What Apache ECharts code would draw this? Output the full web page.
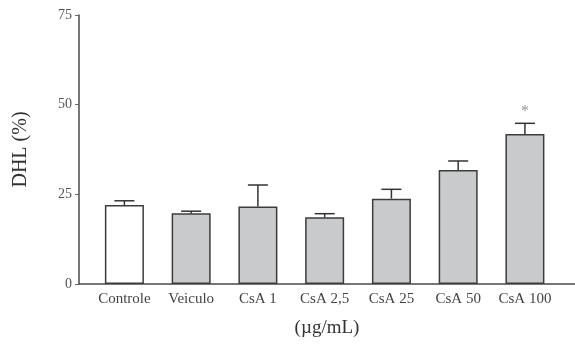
<!DOCTYPE html>
<html>
<head>
<meta charset="utf-8">
<script src="https://cdn.jsdelivr.net/npm/echarts@6/dist/echarts.min.js"></script>
<style>
  html, body { margin: 0; padding: 0; background: #fff; }
  #chart { width: 575px; height: 344px; }
</style>
</head>
<body>
<div id="chart"></div>
<script>
// Groups and measured DHL (%) with upper SEM
const categories = ['Controle', 'Veiculo', 'CsA 1', 'CsA 2,5', 'CsA 25', 'CsA 50', 'CsA 100'];
const means = [22.0, 19.7, 21.6, 18.6, 23.8, 31.8, 41.8];
const errors = [1.2, 0.6, 6.0, 1.0, 2.6, 2.5, 3.0];
const significance = ['', '', '', '', '', '', '*'];
const yTicks = [0, 25, 50, 75];

const serif = '"Liberation Serif", "DejaVu Serif", serif';
const idx = categories.map((_, i) => i);

const barData = means.map((v, i) => ({
  value: [i, v],
  itemStyle: { color: i === 0 ? '#ffffff' : '#c8cacb' }
}));
const errData = means.map((v, i) => [i, v, v + errors[i], significance[i]]);

const chart = echarts.init(document.getElementById('chart'), null, { renderer: 'canvas' });
chart.setOption({
  animation: false,
  backgroundColor: '#ffffff',
  grid: { left: 79, right: 0, top: 15, bottom: 60 },
  xAxis: {
    type: 'value',
    min: -0.68,
    max: 6.75,
    splitLine: { show: false },
    axisLine: { show: true, onZero: false, lineStyle: { color: '#4a4a4a', width: 1.5 } },
    axisTick: { show: false },
    axisLabel: {
      customValues: idx,
      formatter: v => categories[Math.round(v)] || '',
      fontFamily: serif, fontSize: 15, color: '#444', margin: 8
    },
    name: '(\u00b5g/mL)',
    nameLocation: 'middle',
    nameGap: 35,
    nameTextStyle: { fontFamily: serif, fontSize: 19, color: '#333' }
  },
  yAxis: {
    type: 'value',
    min: 0, max: 75, interval: 25,
    splitLine: { show: false },
    axisLine: { show: true, onZero: false, lineStyle: { color: '#4a4a4a', width: 1.5 } },
    axisTick: { show: true, length: 4, lineStyle: { color: '#666' }, customValues: yTicks },
    axisLabel: {
      customValues: yTicks,
      fontFamily: serif, fontSize: 14, color: '#555', margin: 7
    },
    name: 'DHL (%)',
    nameLocation: 'middle',
    nameGap: 48,
    nameRotate: 90,
    nameTextStyle: { fontFamily: serif, fontSize: 20, color: '#333' }
  },
  series: [
    {
      type: 'bar',
      barWidth: 39,
      data: barData,
      itemStyle: { borderColor: '#3c3c3c', borderWidth: 1.5 },
      z: 2
    },
    {
      type: 'custom',
      data: errData,
      z: 3,
      renderItem: function (params, api) {
        const x = api.value(0);
        const base = api.coord([x, api.value(1)]);
        const top = api.coord([x, api.value(2)]);
        const half = 10;
        const children = [
          { type: 'line', shape: { x1: base[0], y1: base[1], x2: top[0], y2: top[1] },
            style: { stroke: '#333', lineWidth: 1.5 } },
          { type: 'line', shape: { x1: top[0] - half, y1: top[1], x2: top[0] + half, y2: top[1] },
            style: { stroke: '#333', lineWidth: 1.5 } }
        ];
        const mark = api.value(3);
        if (mark) {
          children.push({
            type: 'text',
            style: {
              text: mark, x: top[0], y: top[1] - 4,
              align: 'center', verticalAlign: 'bottom',
              fontFamily: serif, fontSize: 16, fill: '#999'
            }
          });
        }
        return { type: 'group', children: children };
      }
    }
  ]
});
</script>
</body>
</html>
